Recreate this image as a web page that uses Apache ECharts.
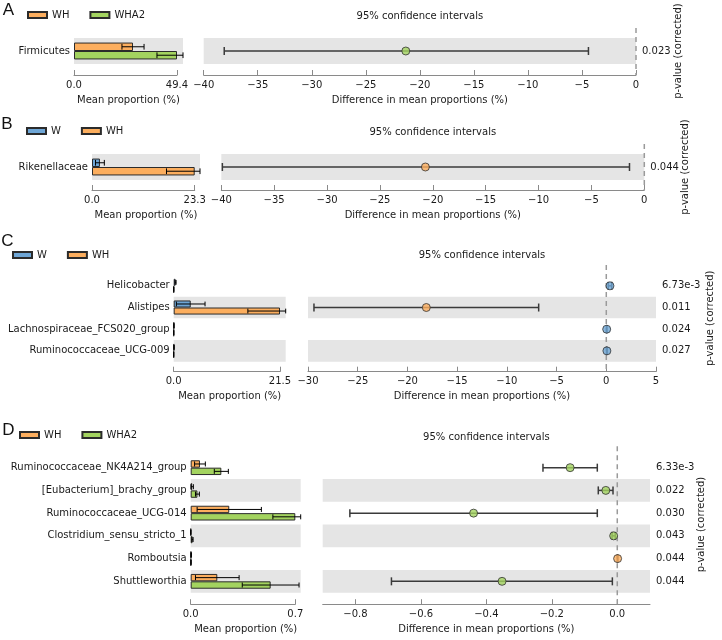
<!DOCTYPE html>
<html><head><meta charset="utf-8">
<script src="https://cdn.jsdelivr.net/npm/echarts@6.0.0/dist/echarts.min.js"></script>
<style>html,body{margin:0;padding:0;background:#fff}#c{width:722px;height:640px}</style>
</head><body><div id="c"></div>
<script>
// ---------------- DATA ----------------
// Panel A
const catsA = ['Firmicutes'];
const A_WH = [28.3], A_WH_sd = [5.3];
const A_WHA2 = [49.4], A_WHA2_sd = [9.6];
const A_diff = [-21.3], A_lo = [-38.1], A_hi = [-4.4];
const A_p = ['0.023'];
const A_barTick = 49.4;
// Panel B
const catsB = ['Rikenellaceae'];
const B_W = [1.8], B_W_sd = [1.0];
const B_WH = [23.3], B_WH_sd = [6.4];
const B_diff = [-20.7], B_lo = [-39.9], B_hi = [-1.4];
const B_p = ['0.044'];
const B_barTick = 23.3;
// Panel C
const catsC = ['Helicobacter', 'Alistipes', 'Lachnospiraceae_FCS020_group', 'Ruminococcaceae_UCG-009'];
const C_W = [0.38, 3.44, 0.05, 0.06], C_W_sd = [0.1, 2.9, 0.02, 0.03];
const C_WH = [0.01, 21.5, 0.01, 0.0], C_WH_sd = [0.01, 6.5, 0.01, 0.0];
const C_diff = [0.37, -18.1, 0.04, 0.06], C_lo = [0.2, -29.4, 0.02, 0.03], C_hi = [0.55, -6.8, 0.06, 0.09];
const C_p = ['6.73e-3', '0.011', '0.024', '0.027'];
const C_barTick = 21.5;
// Panel D
const catsD = ['Ruminococcaceae_NK4A214_group', '[Eubacterium]_brachy_group', 'Ruminococcaceae_UCG-014',
               'Clostridium_sensu_stricto_1', 'Romboutsia', 'Shuttleworthia'];
const D_WH = [0.062, 0.010, 0.258, 0.001, 0.003, 0.178], D_WH_sd = [0.036, 0.008, 0.215, 0.001, 0.002, 0.146];
const D_WHA2 = [0.205, 0.045, 0.700, 0.012, 0.002, 0.535], D_WHA2_sd = [0.047, 0.013, 0.15, 0.004, 0.001, 0.19];
const D_diff = [-0.144, -0.035, -0.439, -0.011, 0.001, -0.352];
const D_lo = [-0.227, -0.058, -0.817, -0.016, 0.0, -0.690];
const D_hi = [-0.061, -0.013, -0.061, -0.006, 0.002, -0.015];
const D_p = ['6.33e-3', '0.022', '0.030', '0.043', '0.044', '0.044'];
const D_barTick = 0.7;
// CI axis ticks
const A_ciTicks = [-40, -35, -30, -25, -20, -15, -10, -5, 0];
const B_ciTicks = [-40, -35, -30, -25, -20, -15, -10, -5, 0];
const C_ciTicks = [-30, -25, -20, -15, -10, -5, 0, 5];
const D_ciTicks = [-0.8, -0.6, -0.4, -0.2, 0.0];

// ---------------- STYLE ----------------
const BLUE = '#6EA6D6', ORANGE = '#FCAE5E', GREEN = '#A3D35F';
const BAND = '#E5E5E5';
const FONT = 'DejaVu Sans';
const TXT = '#1a1a1a';
const AXC = '#8a8a8a';
const EDGE = '#2b2b2b';

const PANELS = [
  { letter: 'A', lx: 8.5, ly: 10, legL: 27, legT: 10, titleY: 16,
    top: 38, height: 26, axOff: 11, barL: 74, barR: 177, ext: 6, ciL: 203.7, ciR: 636, pGap: 37,
    cats: catsA, g1: { name: 'WH', c: ORANGE, m: A_WH, sd: A_WH_sd }, g2: { name: 'WHA2', c: GREEN, m: A_WHA2, sd: A_WHA2_sd },
    diff: A_diff, lo: A_lo, hi: A_hi, p: A_p, barTick: A_barTick, ciMin: -40, ciMax: 0, ciTicks: A_ciTicks, dec: null },
  { letter: 'B', lx: 7, ly: 124, legL: 26, legT: 126, titleY: 132,
    top: 154, height: 26, axOff: 10, barL: 92, barR: 194.7, ext: 5.3, ciL: 221.3, ciR: 644.3, pGap: 36,
    cats: catsB, g1: { name: 'W', c: BLUE, m: B_W, sd: B_W_sd }, g2: { name: 'WH', c: ORANGE, m: B_WH, sd: B_WH_sd },
    diff: B_diff, lo: B_lo, hi: B_hi, p: B_p, barTick: B_barTick, ciMin: -40, ciMax: 0, ciTicks: B_ciTicks, dec: null },
  { letter: 'C', lx: 7.5, ly: 241, legL: 12, legT: 250, titleY: 255,
    top: 275, height: 86.7, axOff: 10, barL: 173.7, barR: 280, ext: 5.7, ciL: 308, ciR: 656, pGap: 49,
    cats: catsC, g1: { name: 'W', c: BLUE, m: C_W, sd: C_W_sd }, g2: { name: 'WH', c: ORANGE, m: C_WH, sd: C_WH_sd },
    diff: C_diff, lo: C_lo, hi: C_hi, p: C_p, barTick: C_barTick, ciMin: -30, ciMax: 5, ciTicks: C_ciTicks, dec: null },
  { letter: 'D', lx: 8.3, ly: 430, legL: 19, legT: 430, titleY: 437,
    top: 456.3, height: 136.4, axOff: 11.5, barL: 190.7, barR: 295.3, ext: 5.4, ciL: 322.7, ciR: 650, pGap: 46,
    cats: catsD, g1: { name: 'WH', c: ORANGE, m: D_WH, sd: D_WH_sd }, g2: { name: 'WHA2', c: GREEN, m: D_WHA2, sd: D_WHA2_sd },
    diff: D_diff, lo: D_lo, hi: D_hi, p: D_p, barTick: D_barTick, ciMin: -0.9, ciMax: 0.1, ciTicks: D_ciTicks, dec: 1 }
];

function fmt(v, dec) {
  const a = Math.abs(v);
  const s = dec == null ? String(Math.round(a * 1000) / 1000) : a.toFixed(dec);
  return (v < -1e-9 ? '\u2212' : '') + s;
}

const grid = [], xAxis = [], yAxis = [], series = [], legend = [], graphic = [];
const txt = { fontFamily: FONT, fontSize: 10, color: TXT };

function bandRenderer(n, ext) {
  return function (params, api) {
    const idx = api.value(1);
    if ((n - 1 - idx) % 2 !== 0) return null;
    const cs = params.coordSys;
    const h = api.size([0, 1])[1];
    const cy = api.coord([api.value(0), idx])[1];
    return { type: 'rect', shape: { x: cs.x, y: cy - h / 2, width: cs.width + ext, height: h }, style: { fill: BAND } };
  };
}

function label(x, y, text) {
  return { type: 'text', x: x, y: y, silent: true,
    style: { text: text, fontFamily: FONT, fontSize: 10, fill: TXT, align: 'center', verticalAlign: 'middle' } };
}

PANELS.forEach((P, k) => {
  const gB = 2 * k, gC = 2 * k + 1;
  const n = P.cats.length;
  grid.push({ left: P.barL, top: P.top, width: P.barR - P.barL, height: P.height });
  grid.push({ left: P.ciL, top: P.top, width: P.ciR - P.ciL, height: P.height });
  const xb = xAxis.length;
  xAxis.push({
    type: 'value', gridIndex: gB, min: 0, max: P.barTick, offset: P.axOff,
    axisLine: { show: true, lineStyle: { color: AXC, width: 1 } },
    axisTick: { show: true, inside: true, length: 5, lineStyle: { color: AXC }, customValues: [0, P.barTick] },
    axisLabel: Object.assign({ margin: 5, customValues: [0, P.barTick], formatter: v => v.toFixed(1) }, txt),
    splitLine: { show: false }
  });
  const xc = xAxis.length;
  xAxis.push({
    type: 'value', gridIndex: gC, min: P.ciMin, max: P.ciMax, offset: P.axOff,
    axisLine: { show: true, lineStyle: { color: AXC, width: 1 } },
    axisTick: { show: true, inside: true, length: 5, lineStyle: { color: AXC }, customValues: P.ciTicks },
    axisLabel: Object.assign({ margin: 5, customValues: P.ciTicks, formatter: v => fmt(v, P.dec) }, txt),
    splitLine: { show: false }
  });
  const yb = yAxis.length;
  yAxis.push({
    type: 'category', gridIndex: gB, data: P.cats, inverse: true,
    axisLine: { show: false }, axisTick: { show: false },
    axisLabel: Object.assign({ margin: 4 }, txt)
  });
  const yc = yAxis.length;
  yAxis.push({
    type: 'category', gridIndex: gC, data: P.cats, inverse: true, show: false
  });
  yAxis.push({
    type: 'category', gridIndex: gC, data: P.p, inverse: true, position: 'right',
    axisLine: { show: false }, axisTick: { show: false },
    axisLabel: Object.assign({ margin: 6 }, txt),
    name: 'p-value (corrected)', nameLocation: 'middle', nameRotate: 90, nameGap: P.pGap, nameMoveOverlap: false, nameTextStyle: txt
  });

  const idxData = P.cats.map((c, i) => [0, i]);
  // bands (bar grid)
  series.push({ type: 'custom', xAxisIndex: xb, yAxisIndex: yb, data: idxData, encode: { x: 0, y: 1 },
    renderItem: bandRenderer(n, P.ext), z: 0, silent: true, clip: false });
  // bars
  [P.g1, P.g2].forEach(g => {
    series.push({ type: 'bar', name: g.name, xAxisIndex: xb, yAxisIndex: yb, data: g.m,
      barGap: '0%', barCategoryGap: '35%', z: 2, silent: true,
      itemStyle: { color: g.c, borderColor: EDGE, borderWidth: 1 } });
  });
  // bar error bars
  [P.g1, P.g2].forEach((g, gi) => {
    const sign = gi === 0 ? -1 : 1;
    series.push({ type: 'custom', xAxisIndex: xb, yAxisIndex: yb, z: 3, silent: true, clip: false,
      data: g.m.map((m, i) => [m - g.sd[i], m + g.sd[i], i]), encode: { x: [0, 1], y: 2 },
      renderItem: function (params, api) {
        const cs = params.coordSys;
        const i = api.value(2);
        const h = api.size([0, 1])[1];
        const cy = api.coord([0, i])[1] + sign * h * 0.1625;
        const xmax = cs.x + cs.width + P.ext;
        let x1 = Math.max(cs.x, api.coord([api.value(0), i])[0]);
        let x2 = Math.min(xmax, api.coord([api.value(1), i])[0]);
        const cap = h * 0.11;
        const ls = { stroke: '#000', lineWidth: 1 };
        return { type: 'group', children: [
          { type: 'line', shape: { x1: x1, y1: cy, x2: x2, y2: cy }, style: ls },
          { type: 'line', shape: { x1: x1, y1: cy - cap, x2: x1, y2: cy + cap }, style: ls },
          { type: 'line', shape: { x1: x2, y1: cy - cap, x2: x2, y2: cy + cap }, style: ls }
        ] };
      } });
  });
  // bands (CI grid)
  series.push({ type: 'custom', xAxisIndex: xc, yAxisIndex: yc, data: P.cats.map((c, i) => [P.ciMin, i]), encode: { x: 0, y: 1 },
    renderItem: bandRenderer(n, 0), z: 0, silent: true, clip: false });
  // zero line
  series.push({ type: 'custom', xAxisIndex: xc, yAxisIndex: yc, data: [[0, 0]], encode: { x: 0, y: 1 }, z: 1, silent: true, clip: false,
    renderItem: function (params, api) {
      const cs = params.coordSys;
      const x = api.coord([0, 0])[0];
      return { type: 'line', shape: { x1: x, y1: cs.y - 10, x2: x, y2: cs.y + cs.height + P.axOff },
        style: { stroke: '#9a9a9a', lineWidth: 1.5, lineDash: [5, 4] } };
    } });
  // CI error bars
  series.push({ type: 'custom', xAxisIndex: xc, yAxisIndex: yc, z: 3, silent: true,
    data: P.lo.map((l, i) => [l, P.hi[i], i]), encode: { x: [0, 1], y: 2 },
    renderItem: function (params, api) {
      const i = api.value(2);
      const p1 = api.coord([api.value(0), i]);
      const p2 = api.coord([api.value(1), i]);
      const cap = 4;
      const ls = { stroke: '#3a3a3a', lineWidth: 1.5 };
      return { type: 'group', children: [
        { type: 'line', shape: { x1: p1[0], y1: p1[1], x2: p2[0], y2: p2[1] }, style: ls },
        { type: 'line', shape: { x1: p1[0], y1: p1[1] - cap, x2: p1[0], y2: p1[1] + cap }, style: ls },
        { type: 'line', shape: { x1: p2[0], y1: p2[1] - cap, x2: p2[0], y2: p2[1] + cap }, style: ls }
      ] };
    } });
  // CI points (colour of the group with the larger mean)
  series.push({ type: 'scatter', xAxisIndex: xc, yAxisIndex: yc, z: 4, silent: true, symbol: 'circle', symbolSize: 8,
    data: P.diff.map((d, i) => ({ value: [d, i], itemStyle: { color: d > 0 ? P.g1.c : P.g2.c, borderColor: '#333', borderWidth: 1 } })) });

  legend.push({ data: [P.g1.name, P.g2.name], left: P.legL, top: P.legT, padding: 0, icon: 'rect',
    itemWidth: 19, itemHeight: 6, itemGap: 20, selectedMode: false, textStyle: txt });
  graphic.push({ type: 'text', x: P.lx, y: P.ly, silent: true, style: { text: P.letter, fontFamily: 'Liberation Sans', fontSize: 17, fill: '#111', align: 'center', verticalAlign: 'middle' } });
  graphic.push(label((P.ciL + P.ciR) / 2, P.titleY, '95% confidence intervals'));
  const nameY = P.top + P.height + P.axOff + 25;
  graphic.push(label((P.barL + P.barR + P.ext) / 2, nameY, 'Mean proportion (%)'));
  graphic.push(label((P.ciL + P.ciR) / 2, nameY, 'Difference in mean proportions (%)'));
});

const chart = echarts.init(document.getElementById('c'), null, { renderer: 'canvas' });
chart.setOption({ animation: false, backgroundColor: '#fff', grid, xAxis, yAxis, series, legend, graphic });
</script></body></html>
